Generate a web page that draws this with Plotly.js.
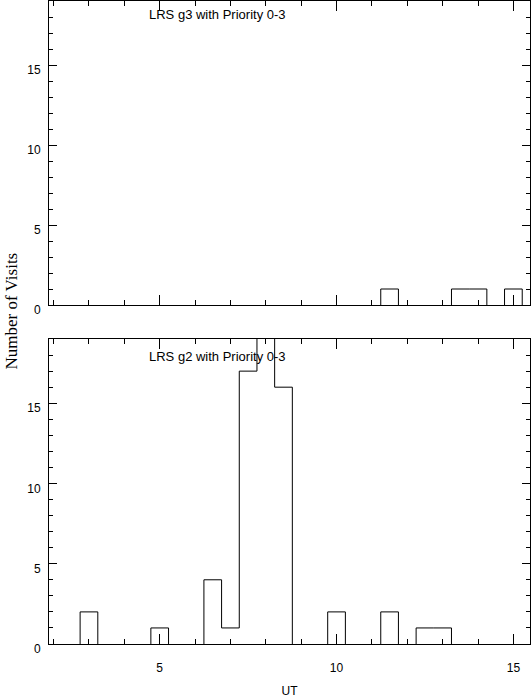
<!DOCTYPE html>
<html><head><meta charset="utf-8">
<script src="https://cdn.plot.ly/plotly-3.0.1.min.js"></script>
<style>html,body{margin:0;padding:0;background:#fff}#chart{width:531px;height:698px}</style>
</head><body><div id="chart"></div>
<script>
// Histogram bins (UT hours, bin centres; bin width 0.5 h)
const binCenters = [3, 3.5, 4, 4.5, 5, 5.5, 6, 6.5, 7, 7.5, 8, 8.5, 9, 9.5, 10, 10.5, 11, 11.5, 12, 12.5, 13, 13.5, 14, 14.5, 15];
// Top panel: LRS g3
const countsG3 = [0, 0, 0, 0, 0, 0, 0, 0, 0, 0, 0, 0, 0, 0, 0, 0, 0, 1, 0, 0, 0, 1, 1, 0, 1];
// Bottom panel: LRS g2 (the 8 h bin runs off the top of the panel)
const countsG2 = [2, 0, 0, 0, 1, 0, 0, 4, 1, 17, 21, 16, 0, 0, 2, 0, 0, 2, 0, 1, 1, 0, 0, 0, 0];
const binWidth = 0.5;
const panelTitles = ['LRS g3 with Priority 0-3', 'LRS g2 with Priority 0-3'];
const xTitle = 'UT';
const yTitle = 'Number of Visits';

// Step outline of the histogram; runs of empty bins lie on the axis, so they are left out
function stepXY(centers, counts) {
  const xs = [], ys = [];
  let open = false;
  centers.forEach((c, i) => {
    const left = c - binWidth / 2, right = c + binWidth / 2;
    if (counts[i] > 0) {
      if (!open) { xs.push(left); ys.push(0); open = true; }
      xs.push(left); ys.push(counts[i]);
      const next = i + 1 < counts.length ? counts[i + 1] : 0;
      if (next <= 0) { xs.push(right, right, null); ys.push(counts[i], 0, null); open = false; }
    }
  });
  return { x: xs, y: ys };
}

const sans = 'Liberation Sans, Arial, Helvetica, sans-serif';
const stepTop = stepXY(binCenters, countsG3);
const stepBot = stepXY(binCenters, countsG2);

const traces = [
  { x: stepBot.x, y: stepBot.y, xaxis: 'x', yaxis: 'y', type: 'scatter', mode: 'lines',
    line: { shape: 'hv', color: '#000', width: 1 }, connectgaps: false, hoverinfo: 'skip', showlegend: false },
  { x: stepTop.x, y: stepTop.y, xaxis: 'x2', yaxis: 'y2', type: 'scatter', mode: 'lines',
    line: { shape: 'hv', color: '#000', width: 1 }, connectgaps: false, hoverinfo: 'skip', showlegend: false }
];

const xRange = [1.87, 15.47];
const yRange = [0, 19];
const xCommon = {
  range: xRange, tickmode: 'linear', tick0: 0, dtick: 5,
  ticks: 'inside', ticklen: 10, tickwidth: 1, tickcolor: '#000',
  minor: { tickmode: 'linear', tick0: 0, dtick: 1, ticks: 'inside', ticklen: 5, tickwidth: 1, tickcolor: '#000' },
  showline: true, linecolor: '#000', linewidth: 1, mirror: 'ticks',
  showgrid: false, zeroline: false,
  tickfont: { family: sans, size: 12, color: '#000' }
};
const yCommon = {
  range: yRange, tickmode: 'linear', tick0: 0, dtick: 5,
  ticks: 'inside', ticklen: 8, tickwidth: 1, tickcolor: '#000',
  minor: { tickmode: 'linear', tick0: 0, dtick: 1, ticks: 'inside', ticklen: 4, tickwidth: 1, tickcolor: '#000' },
  showline: true, linecolor: '#000', linewidth: 1, mirror: 'ticks',
  showgrid: false, zeroline: false,
  tickfont: { family: sans, size: 12, color: '#000' },
  ticklabelstandoff: 5, ticklabelshift: 5
};
// overlay axes that only draw the ticks on the opposite (mirror) sides
const mirrorX = { showticklabels: false, showline: false };
const mirrorY = { showticklabels: false, showline: false };

const layout = {
  width: 531, height: 698,
  margin: { l: 49, r: 1, t: 1, b: 54, pad: 0 },
  paper_bgcolor: '#fff', plot_bgcolor: '#fff',
  showlegend: false,
  xaxis: Object.assign({}, xCommon, { anchor: 'y', domain: [0, 1], ticklabelstandoff: 13,
    title: { text: xTitle, font: { family: sans, size: 12, color: '#000' }, standoff: 26 } }),
  xaxis2: Object.assign({}, xCommon, { anchor: 'y2', domain: [0, 1], showticklabels: false }),
  xaxis3: Object.assign({}, xCommon, mirrorX, { overlaying: 'x', anchor: 'y', side: 'top' }),
  xaxis4: Object.assign({}, xCommon, mirrorX, { overlaying: 'x2', anchor: 'y2', side: 'top' }),
  yaxis: Object.assign({}, yCommon, { anchor: 'x', domain: [0, 0.4743] }),
  yaxis2: Object.assign({}, yCommon, { anchor: 'x2', domain: [0.5272, 1] }),
  yaxis3: Object.assign({}, yCommon, mirrorY, { overlaying: 'y', anchor: 'x', side: 'right' }),
  yaxis4: Object.assign({}, yCommon, mirrorY, { overlaying: 'y2', anchor: 'x2', side: 'right' }),
  annotations: [
    { text: panelTitles[0], xref: 'x2', yref: 'paper', x: 4.63, y: 1 - 14 / 643, xanchor: 'left', yanchor: 'middle',
      showarrow: false, font: { family: sans, size: 13, color: '#000' } },
    { text: panelTitles[1], xref: 'x', yref: 'paper', x: 4.63, y: 0.4743 - 17.5 / 643, xanchor: 'left', yanchor: 'middle',
      showarrow: false, font: { family: sans, size: 13, color: '#000' } },
    { text: yTitle, xref: 'paper', yref: 'paper', x: -38.5 / 481, y: (644 - 311) / 643, xanchor: 'center', yanchor: 'middle',
      textangle: -90, showarrow: false, font: { family: 'Liberation Serif, Times New Roman, serif', size: 17, color: '#000' } }
  ]
};

// invisible anchor points so the overlay (mirror-tick) axes are drawn
traces.push({ x: [xRange[0]], y: [yRange[0]], xaxis: 'x3', yaxis: 'y3', type: 'scatter', mode: 'markers',
  marker: { opacity: 0 }, hoverinfo: 'skip', showlegend: false });
traces.push({ x: [xRange[0]], y: [yRange[0]], xaxis: 'x4', yaxis: 'y4', type: 'scatter', mode: 'markers',
  marker: { opacity: 0 }, hoverinfo: 'skip', showlegend: false });

Plotly.newPlot('chart', traces, layout, { staticPlot: true, displayModeBar: false });
</script>
</body></html>
